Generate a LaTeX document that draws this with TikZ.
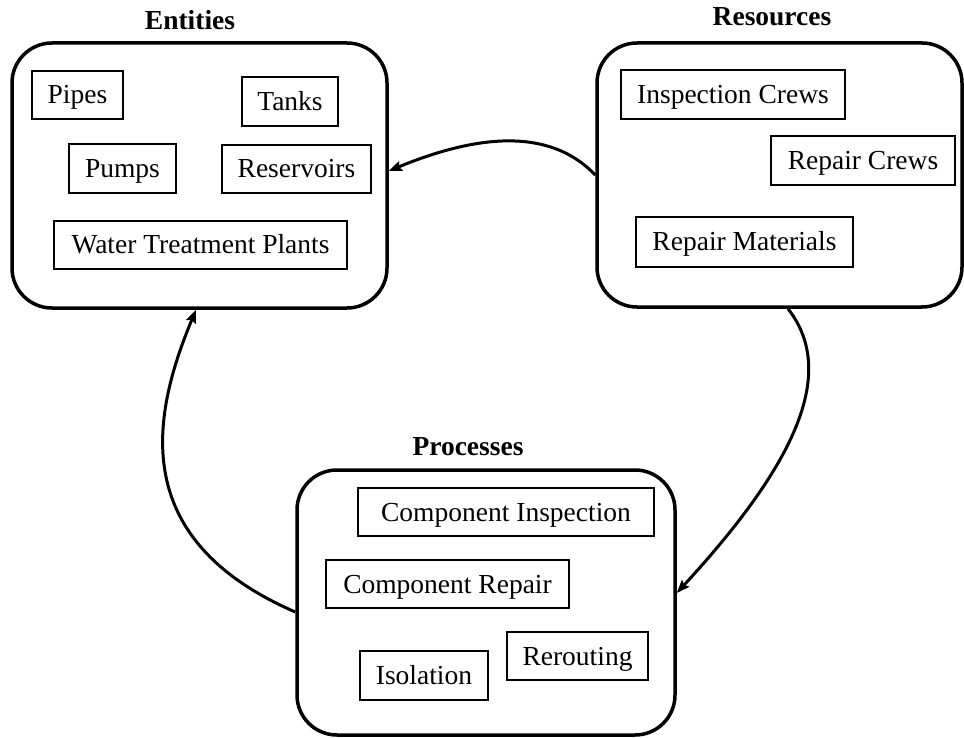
\documentclass[tikz,border=0pt]{standalone}
\usepackage{fontspec}
\setmainfont{Liberation Serif}
\usetikzlibrary{arrows.meta}
\begin{document}
\begin{tikzpicture}[x=1pt,y=-1pt,
  group/.style={draw,line width=3.5pt,rounded corners=40pt,anchor=center,inner sep=0pt},
  item/.style={draw,line width=2.5pt,anchor=center,inner sep=0pt,
    text height=18pt,text depth=0pt,
    font=\fontsize{27.5}{33}\selectfont},
  grouptitle/.style={anchor=center,font=\fontsize{27.5}{33}\selectfont\bfseries},
  flow/.style={line width=3pt,-{Stealth[length=13pt,width=10pt,inset=2pt]}}]
\useasboundingbox (0,0) rectangle (964,738);

% Entities
\node[group,minimum width=375pt,minimum height=265pt] (ent) at (199.5,175.5) {};
\node[grouptitle] (entT) at (190,20) {Entities};
\node[item,minimum width=91pt,minimum height=48pt] (pipes) at (77.5,95) {Pipes};
\node[item,minimum width=96pt,minimum height=49pt] (tanks) at (290,101.5) {Tanks};
\node[item,minimum width=107pt,minimum height=49pt] (pumps) at (122.5,168.5) {Pumps};
\node[item,minimum width=149pt,minimum height=48pt] (resv) at (296.5,169) {Reservoirs};
\node[item,minimum width=293pt,minimum height=48pt] (wtp) at (200.5,245) {Water Treatment Plants};

% Resources
\node[group,minimum width=365pt,minimum height=264pt] (res) at (779.5,175) {};
\node[grouptitle] (resT) at (772,17) {Resources};
\node[item,minimum width=224pt,minimum height=49pt] (icrew) at (733,94.5) {Inspection Crews};
\node[item,minimum width=184pt,minimum height=49pt] (rcrew) at (863,160.5) {Repair Crews};
\node[item,minimum width=217pt,minimum height=50pt] (rmat) at (744.5,242) {Repair Materials};

% Processes
\node[group,minimum width=378pt,minimum height=265pt] (proc) at (486,602.5) {};
\node[grouptitle] (procT) at (468,447) {Processes};
\node[item,minimum width=296pt,minimum height=48pt] (cinsp) at (506,512) {Component Inspection};
\node[item,minimum width=243pt,minimum height=48pt] (crep) at (447.5,584) {Component Repair};
\node[item,minimum width=128pt,minimum height=49pt] (isol) at (424,675.5) {Isolation};
\node[item,minimum width=141pt,minimum height=48pt] (rerout) at (577.5,656) {Rerouting};

% Connectors between the groups
\draw[flow] (res.west) .. controls (560,138) and (500,125) .. ([yshift=4.5pt]ent.east);
\draw[flow] ([yshift=-9.5pt]proc.west) .. controls (130,540) and (150,420) .. ([xshift=-3.5pt]ent.south);
\draw[flow] ([xshift=8.5pt]res.south) .. controls (840,375) and (790,470) .. ([yshift=9.5pt]proc.east);
\end{tikzpicture}
\end{document}
